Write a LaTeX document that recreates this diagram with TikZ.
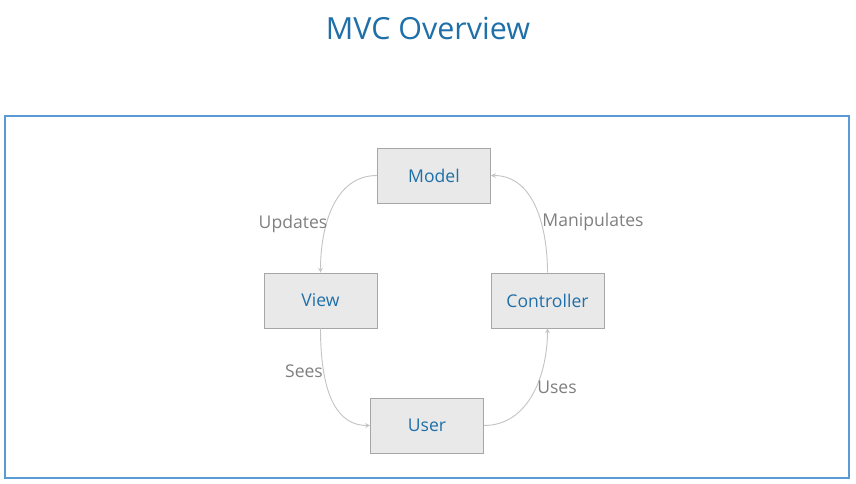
\documentclass[tikz,border=0pt]{standalone}
\usepackage{fontspec}
\setmainfont{Open Sans}
\usepackage{tikz}

\definecolor{mvcblue}{HTML}{1F6FA8}
\definecolor{framblue}{HTML}{5B9BD5}
\definecolor{boxfill}{HTML}{E9E9E9}
\definecolor{boxline}{HTML}{A6A6A6}
\definecolor{linegray}{HTML}{C4C4C4}
\definecolor{labelgray}{HTML}{7F7F7F}

\begin{document}
\begin{tikzpicture}[x=0.03cm, y=0.03cm,
    part/.style={draw=boxline,
        fill=boxfill,
        line width=0.8pt,
        minimum width=3.39cm,
        minimum height=1.65cm,
        text=mvcblue,
        font=\fontsize{15}{18}\selectfont
    },
    link/.style={-stealth, draw=linegray, line width=0.8pt},
    tag/.style={text=labelgray, font=\fontsize{15}{18}\selectfont}
]

    \useasboundingbox (0,0) rectangle (856,484);

    % Title and frame
    \node[text=mvcblue, font=\fontsize{26}{30}\selectfont] (title) at (428,456){MVC Overview};
    \draw[framblue, line width=1.6pt] (5,6) rectangle (849,368);

    % Boxes
    \node[part] (model) at (434,308.5){Model};
    \node[part] (view) at (320.5,183.5){View};
    \node[part] (controller) at (547.5,183.5){Controller};
    \node[part] (user) at (427,58.5){User};

    % Arrows
    \draw[link] (model.west) to[out=180,in=90] (view.north);
    \draw[link] (controller.north) to[out=90,in=0] (model.east);
    \draw[link] (view.south) to[out=-90,in=180] (user.west);
    \draw[link] (user.east) to[out=0,in=-90] (controller.south);

    % Arrow text
    \node[tag] (updates) at (293,260){Updates};
    \node[tag] (manipulates) at (593,262){Manipulates};
    \node[tag] (sees) at (304,113){Sees};
    \node[tag] (uses) at (557,97){Uses};

\end{tikzpicture}
\end{document}
